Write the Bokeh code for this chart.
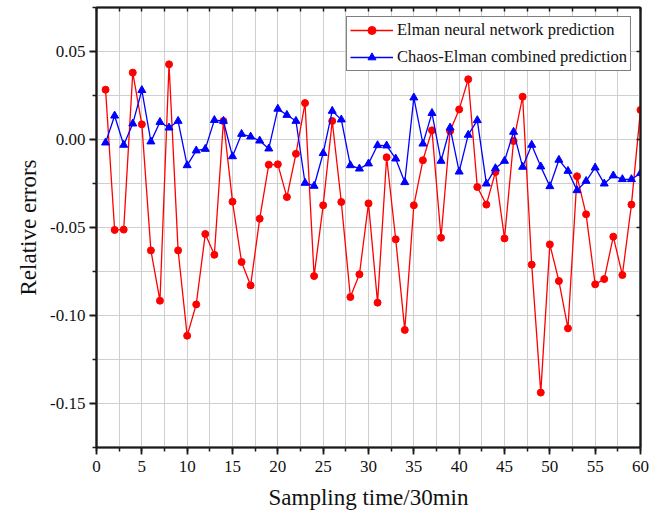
from bokeh.plotting import figure
from bokeh.models import (FixedTicker, LinearAxis, PrintfTickFormatter, Range1d,
                          Legend, LegendItem)
from bokeh.embed import file_html
from bokeh.resources import INLINE

sampling_time = list(range(1, 61))

elman_errors = [
    0.0283, -0.0514, -0.0512, 0.0380, 0.0086, -0.0630, -0.0916, 0.0427, -0.0630, -0.1115,
    -0.0937, -0.0537, -0.0655, 0.0105, -0.0353, -0.0696, -0.0829, -0.0450, -0.0143, -0.0141,
    -0.0327, -0.0081, 0.0207, -0.0776, -0.0374, 0.0105, -0.0355, -0.0895, -0.0766, -0.0363,
    -0.0927, -0.0101, -0.0567, -0.1082, -0.0374, -0.0118, 0.0052, -0.0558, 0.0048, 0.0171,
    0.0342, -0.0270, -0.0370, -0.0185, -0.0562, -0.0009, 0.0243, -0.0711, -0.1438, -0.0596,
    -0.0804, -0.1073, -0.0209, -0.0425, -0.0823, -0.0793, -0.0552, -0.0770, -0.0370, 0.0168,
]

chaos_elman_errors = [
    -0.0018, 0.0135, -0.0031, 0.0090, 0.0280, -0.0012, 0.0099, 0.0067, 0.0105, -0.0147,
    -0.0063, -0.0054, 0.0110, 0.0105, -0.0096, 0.0031, 0.0016, -0.0007, -0.0052, 0.0174,
    0.0139, 0.0105, -0.0247, -0.0264, -0.0078, 0.0162, 0.0113, -0.0147, -0.0166, -0.0137,
    -0.0033, -0.0035, -0.0109, -0.0243, 0.0238, -0.0024, 0.0150, -0.0122, 0.0067, -0.0183,
    0.0026, 0.0109, -0.0251, -0.0164, -0.0122, 0.0043, -0.0156, -0.0031, -0.0154, -0.0266,
    -0.0116, -0.0179, -0.0289, -0.0236, -0.0160, -0.0251, -0.0205, -0.0226, -0.0226, -0.0192,
]

series_labels = ["Elman neural network prediction", "Chaos-Elman combined prediction"]
x_major = list(range(0, 61, 5))
x_minor = [i * 2.5 for i in range(0, 25)]
y_major = [-0.15, -0.10, -0.05, 0.0, 0.05]
y_minor = [-0.175, -0.125, -0.075, -0.025, 0.025, 0.075]

FONT = "Liberation Serif"

p = figure(width=659, height=519, output_backend="svg", toolbar_location=None,
           x_range=Range1d(0, 60), y_range=Range1d(-0.175, 0.075),
           min_border_left=96, min_border_right=19, min_border_top=7,
           min_border_bottom=72)
p.background_fill_color = "white"
p.border_fill_color = "white"
p.outline_line_color = "black"
p.outline_line_width = 1.5

# grids
p.xaxis.ticker = FixedTicker(ticks=x_major, minor_ticks=x_minor)
p.yaxis.ticker = FixedTicker(ticks=y_major, minor_ticks=y_minor)
p.yaxis.formatter = PrintfTickFormatter(format="%.2f")
for g in (p.xgrid, p.ygrid):
    g.grid_line_color = "#cfcfcf"
    g.grid_line_width = 1
    g.minor_grid_line_color = "#cfcfcf"
    g.minor_grid_line_width = 1

for ax in (p.xaxis[0], p.yaxis[0]):
    ax.axis_line_color = "#1a1a1a"
    ax.axis_line_width = 2.2
    ax.major_tick_line_color = "#1a1a1a"
    ax.major_tick_line_width = 1.8
    ax.minor_tick_line_color = "#1a1a1a"
    ax.minor_tick_line_width = 1.5
    ax.major_tick_in = 0
    ax.major_tick_out = 7
    ax.minor_tick_in = 0
    ax.minor_tick_out = 4
    ax.major_label_text_font = FONT
    ax.major_label_text_font_size = "17px"
    ax.major_label_text_color = "#111111"
    ax.axis_label_text_font = FONT
    ax.axis_label_text_font_size = "23px"
    ax.axis_label_text_font_style = "normal"
    ax.axis_label_text_color = "#111111"

p.xaxis.axis_label = "Sampling time/30min"
p.yaxis.axis_label = "Relative errors"
p.xaxis.major_label_standoff = 6
p.xaxis.axis_label_standoff = 10
p.yaxis.major_label_standoff = 4
p.yaxis.axis_label_standoff = 6

# box axes with inward ticks (minor ticks only, so no tick labels are drawn)
top_ax = LinearAxis(ticker=FixedTicker(ticks=[], minor_ticks=x_minor),
                    axis_line_color="#1a1a1a", axis_line_width=2.2,
                    major_tick_line_color=None,
                    minor_tick_in=4, minor_tick_out=0, minor_tick_line_color="#1a1a1a",
                    minor_tick_line_width=1.5, major_label_standoff=0)
right_ax = LinearAxis(ticker=FixedTicker(ticks=[], minor_ticks=y_major),
                      axis_line_color="#1a1a1a", axis_line_width=2.2,
                      major_tick_line_color=None,
                      minor_tick_in=4, minor_tick_out=0, minor_tick_line_color="#1a1a1a",
                      minor_tick_line_width=1.5, major_label_standoff=0)
p.add_layout(top_ax, "above")
p.add_layout(right_ax, "right")

# series
r1l = p.line(sampling_time, elman_errors, line_color="#ff0000", line_width=1.3)
r1s = p.scatter(sampling_time, elman_errors, marker="circle", size=7,
                fill_color="#ff0000", line_color="#ff0000")
r2l = p.line(sampling_time, chaos_elman_errors, line_color="#0000ff", line_width=1.3)
r2s = p.scatter(sampling_time, chaos_elman_errors, marker="triangle", size=8,
                fill_color="#0000ff", line_color="#0000ff")

legend = Legend(items=[LegendItem(label=series_labels[0], renderers=[r1l, r1s]),
                       LegendItem(label=series_labels[1], renderers=[r2l, r2s])],
                location="top_right")
legend.label_text_font = FONT
legend.label_text_font_size = "16.5px"
legend.label_text_color = "#111111"
legend.border_line_color = "black"
legend.border_line_width = 1.2
legend.background_fill_color = "white"
legend.background_fill_alpha = 1
legend.glyph_width = 43
legend.glyph_height = 20
legend.label_height = 20
legend.spacing = 7
legend.padding = 3
legend.margin = 9
legend.label_standoff = 4
p.add_layout(legend, "center")

open("out.html", "w").write(file_html(p, INLINE))
